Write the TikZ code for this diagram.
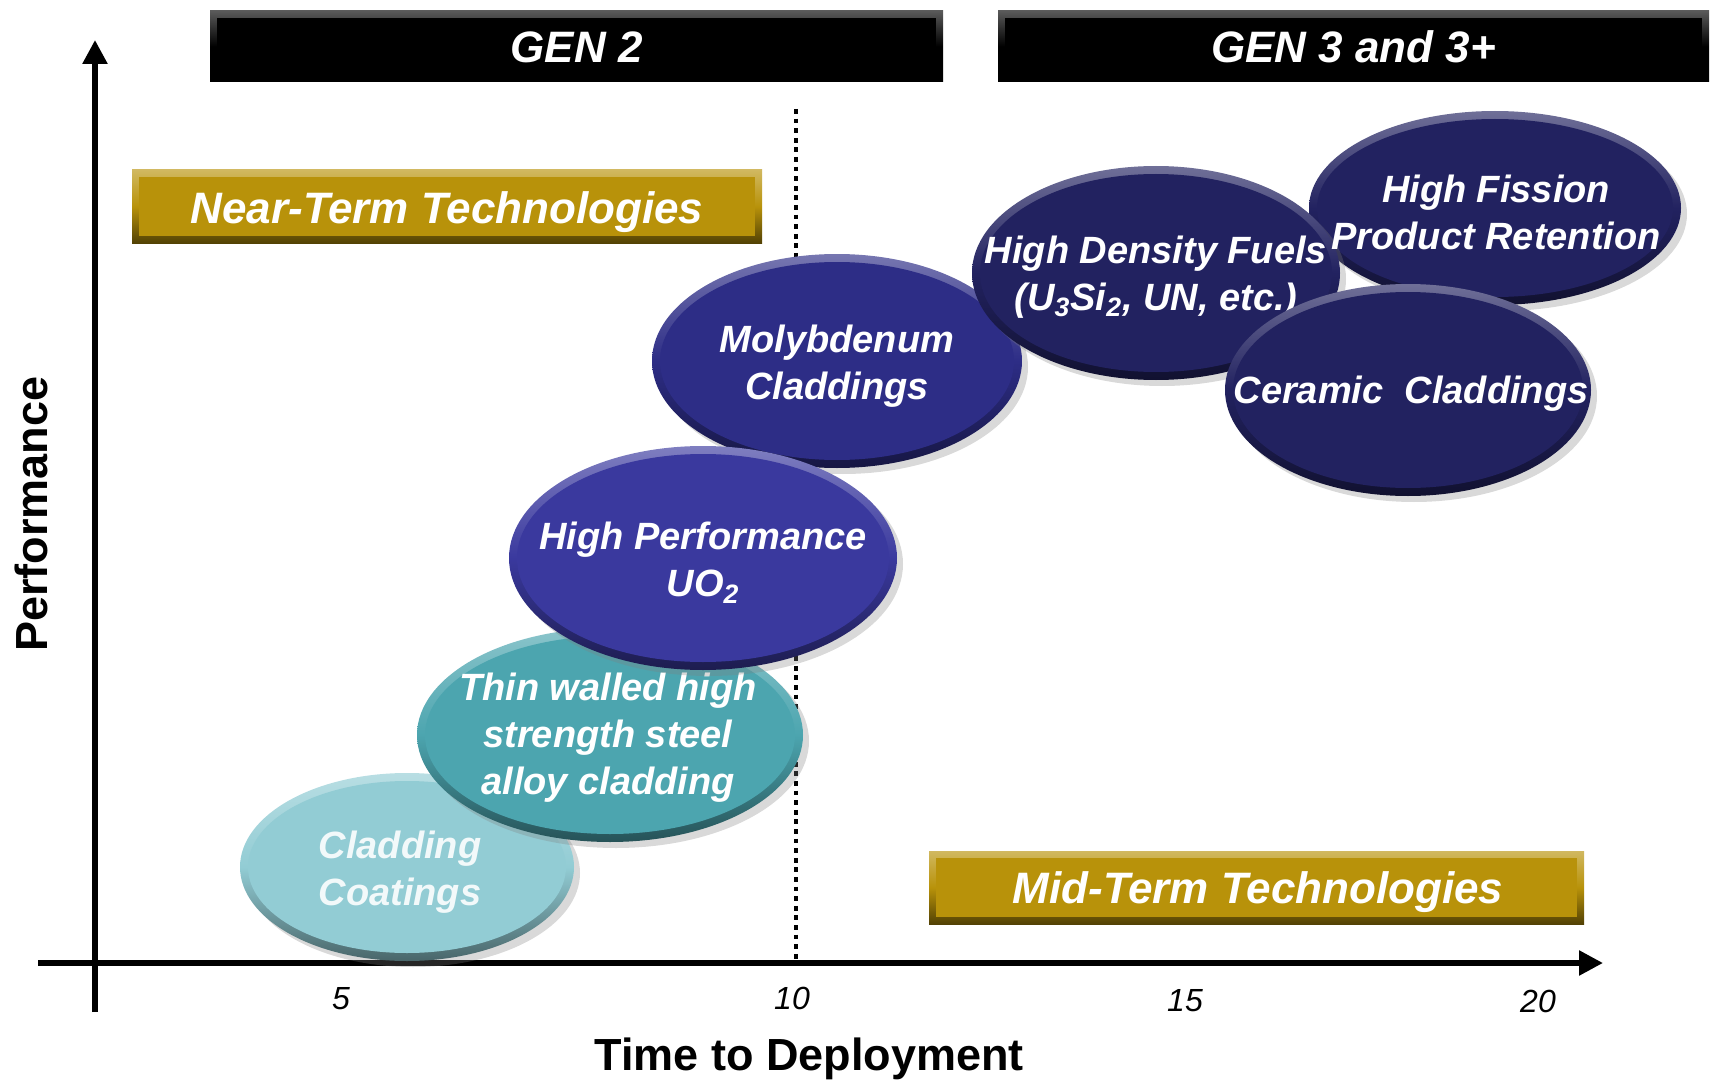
\documentclass[tikz,border=0pt]{standalone}
\usepackage{fontspec}
\setmainfont{Liberation Sans}
\usetikzlibrary{shapes.geometric,shadows,arrows.meta}

\definecolor{coatcol}{RGB}{146,204,212}
\definecolor{thincol}{RGB}{76,165,175}
\definecolor{uocol}{RGB}{58,57,158}
\definecolor{molycol}{RGB}{45,45,134}
\definecolor{darkcol}{RGB}{34,34,96}
\definecolor{goldcol}{RGB}{184,146,10}

\tikzset{
  % shaded ellipse with a bevelled rim: #1 = x diameter/2 (px), #2 = y diameter/2 (px), #3 = colour
  blob/.style n args={3}{ellipse, minimum width=#1pt, minimum height=#2pt, inner sep=0pt, draw=none,
    top color=#3!65!white, bottom color=#3!50!black, middle color=#3,
    drop shadow={shadow xshift=3pt, shadow yshift=-3pt, opacity=0.3},
    path picture={\fill[#3] (path picture bounding box.center)
      ellipse [x radius={#1*0.5pt-4pt}, y radius={#2*0.5pt-4pt}];}},
  bloblabel/.style={text=white, align=center,
    font=\fontsize{19}{23.5}\selectfont\bfseries\itshape},
  % bevelled banner: #1 = colour
  banner/.style={rectangle, inner sep=0pt, draw=none,
    top color=#1!65!white, bottom color=#1!45!black, middle color=#1,
    path picture={\fill[#1] ([shift={(3.5pt,-3.5pt)}]path picture bounding box.north west)
      rectangle ([shift={(-3.5pt,3.5pt)}]path picture bounding box.south east);}},
  bannertext/.style={text=white, font=\fontsize{22}{26}\selectfont\bfseries\itshape},
  axis/.style={line width=2.75pt, -{Triangle[length=12pt,width=12pt]}},
  ticklabel/.style={font=\fontsize{16}{18}\selectfont\itshape},
  axistitle/.style={font=\fontsize{22.5}{26}\selectfont\bfseries},
}

\begin{document}
\begin{tikzpicture}[x=0.5pt, y=-0.5pt]
\useasboundingbox (0,0) rectangle (1715,1081);

% generation banners
\node[banner=black, minimum width=366.5pt, minimum height=35.5pt] (gen2) at (576.5,46.5) {};
\node[bannertext] (gen2-t) at (576.5,47) {GEN 2};
\node[banner=black, minimum width=355.5pt, minimum height=35.5pt] (gen3) at (1353.5,46.5) {};
\node[bannertext] (gen3-t) at (1353.5,47) {GEN 3 and 3+};

% term banners
\node[banner=goldcol, minimum width=315pt, minimum height=36.5pt] (near) at (447,206.5) {};
\node[bannertext] (near-t) at (447,212) {Near-Term Technologies};
\node[banner=goldcol, minimum width=327.5pt, minimum height=36.5pt] (mid) at (1256.5,887.5) {};
\node[bannertext] (mid-t) at (1258,892) {Mid-Term Technologies};

% divider between generations
\coordinate (div-top) at (796,109);
\coordinate (div-bot) at (796,960);
\draw[line width=2pt, dash pattern=on 2.4pt off 2.4pt] (div-top) -- (div-bot);

% axes
\coordinate (ybot) at (95,1012);
\coordinate (ytop) at (95,40);
\coordinate (xleft) at (38,963);
\coordinate (xright) at (1603,963);
\draw[axis] (ybot) -- (ytop);
\draw[axis] (xleft) -- (xright);

\node[ticklabel] (t5) at (341,999) {5};
\node[ticklabel] (t10) at (792,998) {10};
\node[ticklabel] (t15) at (1185,1001) {15};
\node[ticklabel] (t20) at (1538,1001) {20};
\node[axistitle] (xtitle) at (809,1059) {Time to Deployment};
\node[axistitle, rotate=90] (ytitle) at (31,514) {Performance};

% technologies
\node[blob={167}{94}{coatcol}] (coat) at (407,867) {};
\node[bloblabel, text=white!88!coatcol] (coat-t) at (400,872) {Cladding\\Coatings};

\node[blob={193}{107}{thincol}] (thin) at (610,735) {};
\node[bloblabel] (thin-t) at (608,738) {Thin walled high\\strength steel\\alloy cladding};

\node[blob={185}{107}{molycol}] (moly) at (837,361) {};
\node[bloblabel] (moly-t) at (837,366) {Molybdenum\\Claddings};

\node[blob={194}{112}{uocol}] (uo) at (703,558) {};
\node[bloblabel] (uo-t) at (703,563) {High Performance\\UO\textsubscript{2}};

\node[blob={186}{97}{darkcol}] (hfpr) at (1495,208) {};
\node[blob={184}{107}{darkcol}] (hdf) at (1156,273) {};
\node[bloblabel] (hfpr-t) at (1496,212) {High Fission\\Product Retention};
\node[bloblabel] (hdf-t) at (1156,277) {High Density Fuels\\(U\textsubscript{3}Si\textsubscript{2}, UN, etc.)};

\node[blob={183}{106}{darkcol}] (ceram) at (1408,390) {};
\node[bloblabel] (ceram-t) at (1411,394) {Ceramic\ \ Claddings};
\end{tikzpicture}
\end{document}
